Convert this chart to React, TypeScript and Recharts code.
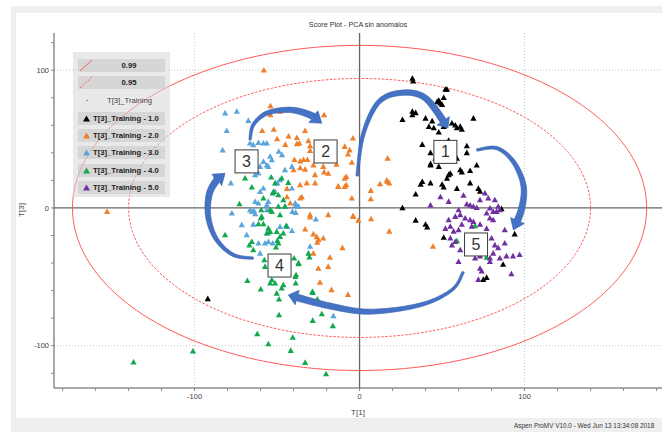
import React from "react";
import { ScatterChart, Scatter, XAxis, YAxis, ReferenceLine, Label } from "recharts";

type Pt = [number, number];

const TITLE = "Score Plot - PCA sin anomalos";
const X_LABEL = "T[1]";
const Y_LABEL = "T[3]";
const FOOTER = "Aspen ProMV V10.0 - Wed Jun 13 13:34:08 2018";

const X_TICKS = [-180, -160, -140, -120, -100, -80, -60, -40, -20, 0, 20, 40, 60, 80, 100, 120, 140, 160, 180];
const Y_TICKS = [-120, -100, -80, -60, -40, -20, 0, 20, 40, 60, 80, 100, 120];
const LABELLED_TICKS = [-100, 0, 100];

// Hotelling T2 limits (semi-axes along T[1], T[3])
const LIMIT_99: Pt = [174, 118];
const LIMIT_95: Pt = [140, 94];

const SERIES_NAMES = ["T[3]_Training - 1.0", "T[3]_Training - 2.0", "T[3]_Training - 3.0", "T[3]_Training - 4.0", "T[3]_Training - 5.0"];
const SERIES_COLORS = ["#000000", "#F07F2A", "#5AA5DC", "#12A84E", "#7030A0"];

const CLASS_1: Pt[] = [
  [32, 94], [32.5, 92], [52, 86], [53, 86], [51, 80], [48, 78], [49, 76], [50, 75], [47, 77], [32, 70],
  [34, 69], [32, 67.5], [26, 64], [40, 65], [44, 63], [42, 59], [45, 58], [48, 55], [51, 59], [56, 61.5],
  [58, 60], [59, 58], [61, 59], [62, 57], [69, 65], [54, 49], [38, 46], [43, 40], [65, 45], [65, 40],
  [59, 36], [43, 32], [43, 31], [48, 30], [61, 27.6], [62, 26], [67, 27], [71, 31], [54, 24], [55, 25],
  [53, 21.5], [38, 19], [37, 17], [43, 18], [34, 10], [50, 17], [51, 15], [59, 14], [67, 18], [72, 14],
  [73, 12], [26, 0], [34, -9], [40, -12], [41, -14], [51, -21.5], [86, -0.7], [94, -19], [87, -41],
  [77, -50.6], [75, -52], [-92, -66], [50, 44], [56, 38], [46, 36],
];

const CLASS_2: Pt[] = [
  [-153, -2.7], [-58, 100], [-54, 74], [-48, 70], [-54, 67.5], [-21.5, 67.5], [-59, 56], [-52, 57], [-33, 56],
  [-50, 50], [-43, 52], [-38, 51], [-31, 48.7], [-4, 50.6], [-45, 46], [-36.5, 47], [-30, 45], [-9, 44.5],
  [-6, 42], [-30, 41.6], [-7, 39], [-39.5, 35], [-36, 34], [-34, 35], [-31.6, 35], [-28, 31], [-4.7, 33],
  [-14, 31.5], [-40, 27.6], [-36, 29], [-33, 28], [-22, 30], [-21.5, 26], [-19, 25], [-27, 24], [-8, 22.7],
  [-9, 21.5], [-36, 16.7], [-32, 18], [-27, 18], [-13, 15.5], [-9, 15.5], [-8, 16.7], [-44, 14], [-35, 8],
  [-36, 7], [-44, 8], [-4.7, 7], [-42, 3.4], [-38, 46.5], [17, 36], [16.5, 20], [17, 19], [18, -17],
  [44.5, -28], [12.4, 17.4], [18, 18], [6.8, 12.6], [6.8, 6.5], [-12.8, 15.5], [-0.7, -9], [-3.7, -6.3],
  [7, -8], [-19, -5], [-30, -6.8], [-33, -15.5], [-28, -19], [-26, -21], [-25, -23], [-22, -22],
  [-25.6, -25], [-10.4, -29], [-18, -36], [-28, -33], [-25, -44], [-19, -42.6], [-24, -54], [-17, -59.5],
  [-7, -63], [-30, -5], [-4, -5.8],
];

const CLASS_3: Pt[] = [
  [-81.5, 68.8], [-74.4, 70], [-67.4, 63.4], [-80.5, 56], [-83, 42], [-66.4, 47], [-64.4, 45.8], [-58.3, 47],
  [-56.2, 47], [-61.3, 47.4], [-49, 41], [-47, 38.5], [-54.2, 37.3], [-58.3, 33.6], [-56.2, 31], [-55.3, 30],
  [-60.3, 30], [-53.2, 34.9], [-70.4, 30], [-72.8, 27.6], [-63.3, 24], [-61.3, 25.2], [-45.2, 27.6], [-41, 30],
  [-48.2, 20.3], [-49.8, 18], [-78, 18], [-58.3, 14.3], [-60.3, 11.8], [-51.2, 11.8], [-63.3, 4.6], [-61.3, 3.4],
  [-55.3, 4.6], [-56.2, 2.2], [-39, 3.4], [-37, 1], [-45.2, 1], [-66.4, -1.5], [-77.4, -3.9], [-56.2, -1.5],
  [-65.3, -2.7], [-63.3, -4.4], [-64, -2], [-40.7, -2.7], [-38.7, -3.4], [-71.4, -12.3], [-64.4, -11.9],
  [-48.2, -13.6], [-43.8, -13.6], [-68.4, -19.6], [-55.3, -18.4], [-61.3, -25.6], [-55.3, -24.5], [-57.3, -25.6],
  [-60.3, -33], [-30, -28], [-26.5, -8.2], [-15.9, -78.4], [-52.6, -25.6], [-41, -16.5], [-41, 14.3], [-38.5, 2.2],
];

const CLASS_4: Pt[] = [
  [-69.4, 21.6], [-65.3, 15], [-53.6, 22.3], [-47.2, 21.6], [-43.2, 18.4], [-51.2, 18], [-52.2, 11.8],
  [-52.6, 10.7], [-49.2, 9.4], [-58.3, 7], [-46.2, 5.8], [-72.8, 2.9], [-49.2, 1], [-45.2, 1], [-54.2, -1.5],
  [-53.2, -2.7], [-59.3, -6.3], [-48.2, -5.1], [-59.6, -1.5], [-59.9, -7.5], [-61.3, -11.6], [-58.3, -11.6],
  [-55.3, -14.8], [-54.2, -17.2], [-56.2, -18.4], [-50.2, -17.2], [-48.2, -20.8], [-46.2, -18.4], [-44.5, -13],
  [-81.5, -19.6], [-65.3, -24.5], [-66.8, -27], [-64.4, -30.5], [-49.8, -23.7], [-49.2, -25.6], [-50.6, -28.5],
  [-57.7, -37.8], [-57.3, -42.6], [-53.2, -52.3], [-54.2, -54.7], [-51.2, -54.7], [-46.2, -55.9], [-50.2, -62],
  [-48.8, -66.3], [-47.2, -58.3], [-68, -52.8], [-59.9, -59], [-39, -49.9], [-38.7, -54.7], [-37, -40],
  [-39.7, -36.5], [-31, -33], [-30.4, -35.8], [-28.6, -60.8], [-25.6, -66.3], [-48.8, -77.7], [-28.4, -81.8],
  [-22.9, -77], [-16.2, -85.7], [-62, -91.5], [-55.3, -98.8], [-40.5, -94], [-41.7, -103.6], [-33, -112.3],
  [-20.3, -120.5], [-137, -112], [-101, -104], [-37, -40.7], [-38.5, -48.7], [-28.4, -61.5],
  [70, -13], [59, -24], [77, -36],
];

const CLASS_5: Pt[] = [
  [49, 8], [43, 2], [54, 4.6], [63, 9], [65, 2.7], [67, 2], [69, 1], [71, 0.2], [73, 5.8], [76, 10.7],
  [78, 7], [82, 5.8], [83, -2.7], [79, -7.5], [81, -8.7], [77, -3.9], [60, -1.5], [61, -5], [58, -6.3],
  [64, -7.5], [67, -8.7], [69, -10], [68, -13.5], [73, -12], [77, -15], [54, -8.7], [55, -13.5], [52, -15],
  [57, -17], [60, -16], [62, -12], [55, -22], [58, -24.5], [56, -27], [61, -30.5], [80, -22], [82, -27],
  [84, -29], [88, -25.6], [81, -33], [79, -36.5], [73, -35], [70, -36.5], [79, -39], [85, -36.5], [89, -35],
  [88, -16], [93, -35], [97, -34], [92, -48], [73, -44], [74, -46], [72, -52], [60, -39], [79, -0.2],
  [81, -2.7], [84, 1], [85, -1.5],
];

const CLASSES = [CLASS_1, CLASS_2, CLASS_3, CLASS_4, CLASS_5];

// annotation: numbered steps and the arrows between them
const STEP_LABELS = ["1", "2", "3", "4", "5"];
const STEP_POS: Pt[] = [[52, 40.7], [-20.6, 41], [-68.5, 33.8], [-48.5, -41.8], [70.6, -26.5]];

const ARROW_3_2: Pt[] = [[-66.4, 49.4], [-64.4, 60.3], [-56.2, 68.8], [-42.1, 71.2], [-30, 67.5], [-22.9, 61.5]];
const ARROW_2_1: Pt[] = [[-1.5, 23.2], [2.1, 53], [11.2, 76.3], [24.5, 83.5], [39.7, 79.9], [53.6, 58.1]];
const ARROW_1_5: Pt[] = [[71, 42.1], [83.2, 43.4], [93.2, 33.6], [99.3, 16.7], [98.3, -0.2], [93.2, -16]];
const ARROW_5_4: Pt[] = [[62.9, -46.3], [56, -59.5], [36.7, -70.4], [6.4, -75.3], [-17.9, -71.2], [-43.2, -63.2]];
const ARROW_4_3: Pt[] = [[-64.4, -36.5], [-76.5, -34.1], [-86.5, -23.2], [-91.6, -7.3], [-91.2, 9.4], [-86.5, 20.3], [-81.5, 25.2]];
const ARROWS = [ARROW_3_2, ARROW_2_1, ARROW_1_5, ARROW_5_4, ARROW_4_3];

const toXY = (pts: Pt[]) => pts.map(([x, y]) => ({ x, y }));

function ellipse([a, b]: Pt) {
  const out: { x: number; y: number }[] = [];
  for (let i = 0; i <= 240; i++) {
    const t = (i / 240) * Math.PI * 2;
    out.push({ x: a * Math.cos(t), y: b * Math.sin(t) });
  }
  return out;
}

const FONT = "'Liberation Sans', Arial, sans-serif";
const RED = "#FF5A5A";
const ARROW_BLUE = "#4472C4";

const noShape = () => <g />;

const triangle = (color: string) => (p: any) => (
  <polygon
    points={`${p.cx},${p.cy - 3.3} ${p.cx + 3.1},${p.cy + 2.3} ${p.cx - 3.1},${p.cy + 2.3}`}
    fill={color}
  />
);

const stepBox = (p: any) => (
  <g>
    <rect x={p.cx - 11.5} y={p.cy - 11.5} width={23} height={23} fill="#fff" stroke="#3a3a3a" strokeWidth={1} />
    <text x={p.cx} y={p.cy + 5.5} textAnchor="middle" fontSize={16} fontFamily={FONT} fill="#333">
      {p.payload.label}
    </text>
  </g>
);

/** Curved block arrow through the given pixel points (Catmull-Rom), head at the last point. */
function BlockArrow(props: any) {
  const pts: { x: number; y: number }[] = props.points || [];
  if (pts.length < 2) return null;
  const n = pts.length;
  const s: { x: number; y: number }[] = [];
  for (let i = 0; i < n - 1; i++) {
    const p0 = pts[Math.max(i - 1, 0)], p1 = pts[i], p2 = pts[i + 1], p3 = pts[Math.min(i + 2, n - 1)];
    for (let k = 0; k < 14; k++) {
      const t = k / 14, t2 = t * t, t3 = t2 * t;
      const f = (a: number, b: number, c: number, d: number) =>
        0.5 * (2 * b + (-a + c) * t + (2 * a - 5 * b + 4 * c - d) * t2 + (-a + 3 * b - 3 * c + d) * t3);
      s.push({ x: f(p0.x, p1.x, p2.x, p3.x), y: f(p0.y, p1.y, p2.y, p3.y) });
    }
  }
  s.push(pts[n - 1]);
  const cum = [0];
  for (let i = 1; i < s.length; i++) cum.push(cum[i - 1] + Math.hypot(s[i].x - s[i - 1].x, s[i].y - s[i - 1].y));
  const total = cum[cum.length - 1];
  const headLen = 11, headHalf = 7.5, w0 = 1.2, w1 = 3.4;
  const cutLen = total - headLen;
  let cut = cum.findIndex((c) => c >= cutLen);
  if (cut < 1) cut = 1;
  const left: string[] = [], right: string[] = [];
  for (let i = 0; i <= cut; i++) {
    const a = s[Math.max(i - 1, 0)], b = s[Math.min(i + 1, s.length - 1)];
    let dx = b.x - a.x, dy = b.y - a.y;
    const L = Math.hypot(dx, dy) || 1;
    dx /= L; dy /= L;
    const w = w0 + (w1 - w0) * Math.min(1, cum[i] / cutLen);
    left.push(`${s[i].x - dy * w},${s[i].y + dx * w}`);
    right.push(`${s[i].x + dy * w},${s[i].y - dx * w}`);
  }
  const base = s[cut], tip = s[s.length - 1];
  let hx = tip.x - base.x, hy = tip.y - base.y;
  const HL = Math.hypot(hx, hy) || 1;
  hx /= HL; hy /= HL;
  const headL = `${base.x - hy * headHalf},${base.y + hx * headHalf}`;
  const headR = `${base.x + hy * headHalf},${base.y - hx * headHalf}`;
  const poly = [...left, headL, `${tip.x},${tip.y}`, headR, ...right.reverse()].join(" ");
  return <polygon points={poly} fill={ARROW_BLUE} stroke="#3560AD" strokeWidth={0.6} strokeLinejoin="round" />;
}

const XTick = (p: any) =>
  LABELLED_TICKS.includes(p.payload.value) ? (
    <text x={p.x} y={p.y + 6} textAnchor="middle" fontSize={7.5} fontFamily={FONT} fill="#444">
      {p.payload.value}
    </text>
  ) : (
    <g />
  );

const YTick = (p: any) =>
  LABELLED_TICKS.includes(p.payload.value) ? (
    <text x={p.x} y={p.y + 2.6} textAnchor="end" fontSize={7.5} fontFamily={FONT} fill="#444">
      {p.payload.value}
    </text>
  ) : (
    <g />
  );

function LegendBox() {
  const row: React.CSSProperties = {
    position: "absolute",
    left: 5,
    width: 87,
    height: 13,
    background: "rgba(190,190,190,0.45)",
    fontFamily: FONT,
    fontSize: 7.7,
    fontWeight: 700,
    color: "#222",
    lineHeight: "13px",
  };
  const tops = [6.5, 23.5, 41.5, 59.5, 76.5, 93.5, 111.5, 128.5];
  return (
    <div
      style={{
        position: "absolute",
        left: 73,
        top: 52,
        width: 97,
        height: 145,
        background: "rgba(215,215,215,0.55)",
      }}
    >
      {["0.99", "0.95"].map((lbl, i) => (
        <div key={lbl} style={{ ...row, top: tops[i] }}>
          <svg width={14} height={13} style={{ position: "absolute", left: 1, top: 0 }}>
            <line x1={1} y1={12} x2={13} y2={1} stroke={RED} strokeWidth={1} strokeDasharray={i === 1 ? "2 1.5" : undefined} />
          </svg>
          <span style={{ position: "absolute", left: 37, width: 28, textAlign: "center" }}>{lbl}</span>
        </div>
      ))}
      <div style={{ ...row, top: tops[2], background: "none", fontWeight: 400, color: "#444" }}>
        <span style={{ position: "absolute", left: 8, top: 6, width: 1.5, height: 1.5, background: "#888" }} />
        <span style={{ position: "absolute", left: 29 }}>T[3]_Training</span>
      </div>
      {SERIES_NAMES.map((name, i) => (
        <div key={name} style={{ ...row, top: tops[i + 3] }}>
          <svg width={10} height={13} style={{ position: "absolute", left: 4, top: 0 }}>
            <polygon points="4.5,3.5 8,9.5 1,9.5" fill={SERIES_COLORS[i]} />
          </svg>
          <span style={{ position: "absolute", left: 15, whiteSpace: "nowrap" }}>{name}</span>
        </div>
      ))}
    </div>
  );
}

export default function App() {
  const steps = STEP_POS.map(([x, y], i) => ({ x, y, label: STEP_LABELS[i] }));
  return (
    <div
      style={{
        position: "absolute",
        left: 0,
        top: 0,
        width: 662,
        height: 432,
        overflow: "hidden",
        background: "#fff",
      }}
    >
      <div style={{ position: "absolute", left: 11, top: 6, width: 700, height: 440, background: "#EFEFEF" }} />
      <div style={{ position: "absolute", left: 16, top: 13, width: 700, height: 405, background: "#fff" }} />
      <div
        style={{
          position: "absolute",
          left: 514,
          top: 421.5,
          whiteSpace: "nowrap",
          fontFamily: FONT,
          fontSize: 6.4,
          color: "#333",
        }}
      >
        {FOOTER}
      </div>
      <div
        style={{
          position: "absolute",
          left: 258,
          width: 200,
          top: 20,
          textAlign: "center",
          fontFamily: FONT,
          fontSize: 7.2,
          color: "#333",
        }}
      >
        {TITLE}
      </div>
      <div style={{ position: "absolute", left: 0, top: 0 }}>
        <ScatterChart width={662} height={432} margin={{ top: 33, right: 0, bottom: 14, left: 14 }}>
          <XAxis
            type="number"
            dataKey="x"
            domain={[-185.2, 183.3]}
            allowDataOverflow
            ticks={X_TICKS}
            interval={0}
            tick={XTick}
            tickSize={3}
            tickMargin={2}
            height={30}
            axisLine={{ stroke: "#555" }}
            tickLine={{ stroke: "#888" }}
          >
            <Label value={X_LABEL} position="insideBottom" offset={3} fontSize={8} fontFamily={FONT} fill="#444" />
          </XAxis>
          <YAxis
            type="number"
            dataKey="y"
            domain={[-130.7, 127]}
            allowDataOverflow
            ticks={Y_TICKS}
            interval={0}
            tick={YTick}
            tickSize={3}
            tickMargin={2}
            width={40}
            axisLine={{ stroke: "#555" }}
            tickLine={{ stroke: "#888" }}
          >
            <Label
              content={() => (
                <text x={24} y={210} transform="rotate(-90 24 210)" textAnchor="middle" fontSize={8} fontFamily={FONT} fill="#444">
                  {Y_LABEL}
                </text>
              )}
            />
          </YAxis>
          {LABELLED_TICKS.filter((v) => v !== 0).map((v) => (
            <ReferenceLine key={`gx${v}`} x={v} stroke="#C8C8C8" strokeDasharray="1 2" />
          ))}
          {LABELLED_TICKS.filter((v) => v !== 0).map((v) => (
            <ReferenceLine key={`gy${v}`} y={v} stroke="#C8C8C8" strokeDasharray="1 2" />
          ))}
          <ReferenceLine x={0} stroke="#666" strokeWidth={1.3} />
          <ReferenceLine y={0} stroke="#666" strokeWidth={1.3} />
          <Scatter
            data={ellipse(LIMIT_99)}
            fill={RED}
            line={{ stroke: RED, strokeWidth: 1 }}
            lineJointType="linear"
            shape={noShape}
            isAnimationActive={false}
          />
          <Scatter
            data={ellipse(LIMIT_95)}
            fill={RED}
            line={{ stroke: RED, strokeWidth: 1, strokeDasharray: "2.5 1.5" }}
            lineJointType="linear"
            shape={noShape}
            isAnimationActive={false}
          />
          {CLASSES.map((pts, i) => (
            <Scatter
              key={SERIES_NAMES[i]}
              name={SERIES_NAMES[i]}
              data={toXY(pts)}
              fill={SERIES_COLORS[i]}
              shape={triangle(SERIES_COLORS[i])}
              isAnimationActive={false}
            />
          ))}
          {ARROWS.map((pts, i) => (
            <Scatter
              key={`arrow${i}`}
              data={toXY(pts)}
              fill={ARROW_BLUE}
              line={<BlockArrow />}
              shape={noShape}
              isAnimationActive={false}
            />
          ))}
          <Scatter data={steps} fill="#fff" shape={stepBox} isAnimationActive={false} />
        </ScatterChart>
      </div>
      <LegendBox />
    </div>
  );
}
